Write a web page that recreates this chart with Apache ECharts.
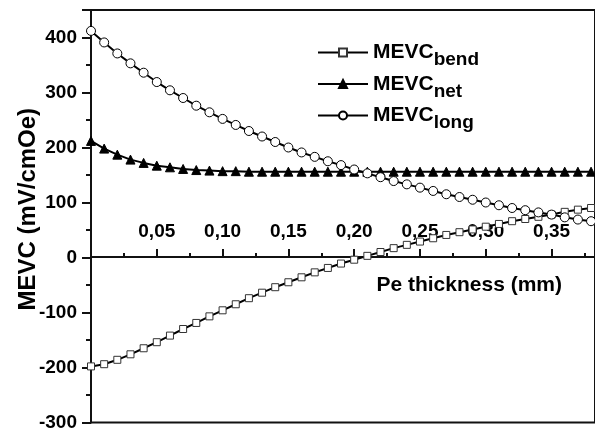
<!DOCTYPE html>
<html><head><meta charset="utf-8">
<script src="https://cdn.jsdelivr.net/npm/echarts@6/dist/echarts.min.js"></script>
<style>html,body{margin:0;padding:0;background:#fff}#c{width:595px;height:432px}</style>
</head><body><div id="c"></div>
<script>
const thickness = [0,0.01,0.02,0.03,0.04,0.05,0.06,0.07,0.08,0.09,0.10,0.11,0.12,0.13,0.14,0.15,0.16,0.17,0.18,0.19,0.20,0.21,0.22,0.23,0.24,0.25,0.26,0.27,0.28,0.29,0.30,0.31,0.32,0.33,0.34,0.35,0.36,0.37,0.38];
const mevcBend = [-198,-194,-186,-176,-165,-154,-142,-130,-119,-107,-96,-85,-74,-64,-54,-45,-36,-27,-19,-11,-4,3,10,17,23,29,35,41,46,51,56,61,66,70,74,78,83,87,90];
const mevcNet = [212,198,187,178,172,167,164,161,159,158,157,157,156,156,156,156,156,156,156,156,156,156,156,156,156,156,156,156,156,156,156,156,156,156,156,156,156,156,156];
const mevcLong = [412,391,371,353,336,319,304,290,276,264,252,241,230,220,210,200,191,183,175,168,160,153,146,139,133,127,121,115,110,105,100,95,90,86,82,78,73,69,66];
const seriesNames = ['MEVC_bend','MEVC_net','MEVC_long'];
const xAxisTitle = 'Pe thickness (mm)';
const yAxisTitle = 'MEVC (mV/cmOe)';

const FONT = "'Liberation Sans', Arial, sans-serif";
const chart = echarts.init(document.getElementById('c'), null, {renderer: 'canvas'});
function mk(name, vals, symbol, size, fill, border, z) {
  return {
    name: name, type: 'line', data: thickness.map((x, i) => [x, vals[i]]),
    symbol: symbol, symbolSize: size, showSymbol: true, showAllSymbol: true,
    lineStyle: {color: '#000', width: 2},
    itemStyle: {color: fill, borderColor: border, borderWidth: 1},
    emphasis: {disabled: true}, z: z, animation: false
  };
}
// grid: top 10, bottom 8 -> plot height 414 for 750 units; zero line at 10 + 450*414/750
const plotH = 432 - 10 - 8;
const zeroOffset = -(plotH - 450 * plotH / 750);
chart.setOption({
  backgroundColor: '#fff',
  animation: false,
  textStyle: {fontFamily: FONT},
  grid: {left: 91, right: -2, top: 10, bottom: 8, show: true, borderColor: '#111', borderWidth: 2, backgroundColor: 'transparent'},
  legend: {
    orient: 'vertical', left: 317, top: 42, padding: 0, itemGap: 4,
    itemWidth: 50, itemHeight: 10,
    data: seriesNames,
    formatter: n => '{m|MEVC}{s|' + n.split('_')[1] + '}{h| }',
    textStyle: {
      fontFamily: FONT,
      rich: {
        m: {fontSize: 21, fontWeight: 'bold', color: '#000', fontFamily: FONT, lineHeight: 22, verticalAlign: 'middle'},
        s: {fontSize: 19, fontWeight: 'bold', color: '#000', fontFamily: FONT, lineHeight: 22, verticalAlign: 'bottom'},
        h: {fontSize: 2, lineHeight: 34, verticalAlign: 'middle', color: 'transparent'}
      }
    }
  },
  xAxis: {
    type: 'value', min: 0, max: 0.383, interval: 0.05,
    position: 'bottom', offset: zeroOffset,
    axisLine: {onZero: false, lineStyle: {color: '#111', width: 2}},
    axisTick: {inside: true, length: 8, lineStyle: {color: '#111', width: 2}},
    minorTick: {show: true, splitNumber: 2, length: 4, lineStyle: {color: '#111', width: 2}},
    splitLine: {show: false},
    axisLabel: {inside: true, margin: 16, showMinLabel: false, showMaxLabel: false,
      fontSize: 19, fontWeight: 'bold', color: '#000', fontFamily: FONT,
      formatter: v => v.toFixed(2).replace('.', ',')},
    name: xAxisTitle, nameLocation: 'end', nameGap: -33, nameMoveOverlap: false,
    nameTextStyle: {fontSize: 21, fontWeight: 'bold', color: '#000', fontFamily: FONT, align: 'right', verticalAlign: 'top', padding: [18, 0, 0, 0]}
  },
  yAxis: {
    type: 'value', min: -300, max: 450, interval: 100,
    axisLine: {onZero: false, lineStyle: {color: '#111', width: 2}},
    axisTick: {inside: false, length: 9, lineStyle: {color: '#111', width: 2}},
    minorTick: {show: true, splitNumber: 2, length: 5, lineStyle: {color: '#111', width: 2}},
    splitLine: {show: false},
    axisLabel: {margin: 14, showMaxLabel: false, fontSize: 19, fontWeight: 'bold', color: '#000', fontFamily: FONT},
    name: yAxisTitle, nameLocation: 'middle', nameGap: 51, nameMoveOverlap: false,
    nameTextStyle: {fontSize: 24, fontWeight: 'bold', color: '#000', fontFamily: FONT, padding: [0, 0, 0, 14]}
  },
  series: [
    mk(seriesNames[0], mevcBend, 'rect', 7, '#fff', '#333', 3),
    mk(seriesNames[1], mevcNet, 'triangle', 9, '#000', '#000', 4),
    mk(seriesNames[2], mevcLong, 'circle', 9, '#fff', '#000', 5)
  ]
});
</script></body></html>
